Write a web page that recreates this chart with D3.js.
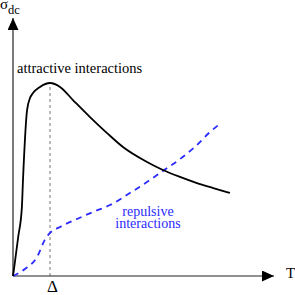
<!DOCTYPE html>
<html>
<head>
<meta charset="utf-8">
<script src="https://cdn.jsdelivr.net/npm/d3@7"></script>
<style>
    body { margin: 0; background: #fff; }
</style>
</head>
<body>
<svg class="chart" width="295" height="295" font-family="Liberation Serif"></svg>
<script>
// T in units of the gap Delta, sigma_dc in arbitrary units
var attractiveT = [0, 0.03, 0.14, 0.24, 0.27, 0.38, 0.46, 0.54, 0.73, 1.0, 1.27, 1.62, 2.08, 2.54, 2.97, 3.62, 4.05, 4.51, 4.97, 5.41, 5.86];
var attractiveSigma = [0, 0.31, 1.51, 2.67, 3.72, 6.43, 6.90, 7.09, 7.33, 7.48, 7.33, 6.82, 6.16, 5.54, 5.00, 4.42, 4.11, 3.84, 3.60, 3.41, 3.22];

var repulsiveT = [0, 0.32, 0.65, 0.86, 1.0, 1.27, 1.73, 2.16, 2.62, 3.24, 3.70, 4.05, 4.51, 4.97, 5.32, 5.62];
var repulsiveSigma = [0, 0.27, 0.74, 1.40, 1.67, 1.90, 2.21, 2.48, 2.75, 3.29, 3.72, 4.07, 4.53, 5.08, 5.58, 5.93];

var tickT = [1];
var tickLabels = ["Δ"];

const blue = "#2b2bff";
const serif = "Liberation Serif";

var chart = d3.select(".chart");

var xScale = d3.scaleLinear()
    .domain([0, 7.05])
    .range([13, 274]);

var yScale = d3.scaleLinear()
    .domain([0, 10])
    .range([276, 18]);

// arrow heads
var defs = chart.append("defs");
defs.append("marker")
    .attr("id", "arrow")
    .attr("viewBox", "0 0 12 11")
    .attr("refX", 12)
    .attr("refY", 5.5)
    .attr("markerWidth", 12)
    .attr("markerHeight", 11)
    .attr("markerUnits", "userSpaceOnUse")
    .attr("orient", "auto")
    .append("path")
    .attr("d", "M0,0 L12,5.5 L0,11 Z")
    .style("fill", "#000");

/**** dashed marker at Delta ****/
chart.selectAll(".deltaLine")
    .data(tickT)
    .enter()
    .append("line")
    .attr("class", "deltaLine")
    .attr("x1", function(d) { return xScale(d); })
    .attr("x2", function(d) { return xScale(d); })
    .attr("y1", yScale(0))
    .attr("y2", yScale(7.48))
    .style("stroke", "#777")
    .style("stroke-width", 1)
    .style("stroke-dasharray", "3,3");

/**** axes ****/
var xAxis = d3.axisBottom(xScale)
    .tickValues(tickT)
    .tickFormat(function(d, i) { return tickLabels[i]; })
    .tickSize(0)
    .tickPadding(4);

var xAxisG = chart.append("g")
    .attr("class", "xAxis")
    .attr("transform", "translate(0," + yScale(0) + ")")
    .call(xAxis)
    .attr("font-family", serif)
    .attr("font-size", 17);
xAxisG.select(".domain")
    .attr("d", "M" + xScale.range()[0] + ",0H" + xScale.range()[1])
    .style("stroke", "#222")
    .style("stroke-width", 1.2)
    .attr("marker-end", "url(#arrow)");
xAxisG.selectAll("text")
    .attr("dx", 2)
    .attr("dy", "0.68em")
    .attr("fill", "#000");

var yAxis = d3.axisLeft(yScale)
    .tickValues([])
    .tickSizeOuter(0);

var yAxisG = chart.append("g")
    .attr("class", "yAxis")
    .attr("transform", "translate(" + xScale(0) + ",0)")
    .call(yAxis);
yAxisG.select(".domain")
    .attr("d", "M0," + yScale.range()[0] + "V" + yScale.range()[1])
    .style("stroke", "#222")
    .style("stroke-width", 1.2)
    .attr("marker-end", "url(#arrow)");

/**** curves ****/
var line = d3.line()
    .x(function(d) { return xScale(d[0]); })
    .y(function(d) { return yScale(d[1]); })
    .curve(d3.curveMonotoneX);

var attractive = d3.zip(attractiveT, attractiveSigma);
var repulsive = d3.zip(repulsiveT, repulsiveSigma);

chart.append("path")
    .datum(repulsive)
    .attr("d", line)
    .style("fill", "none")
    .style("stroke", blue)
    .style("stroke-width", 1.8)
    .style("stroke-dasharray", "6,5");

chart.append("path")
    .datum(attractive)
    .attr("d", line)
    .style("fill", "none")
    .style("stroke", "#000")
    .style("stroke-width", 1.8);

/**** labels ****/
var sigmaLabel = chart.append("text")
    .attr("x", 0)
    .attr("y", 9)
    .attr("font-family", serif)
    .attr("font-size", 15);
sigmaLabel.append("tspan").text("σ");
sigmaLabel.append("tspan")
    .attr("dy", 4.5)
    .attr("font-size", 12.5)
    .text("dc");

chart.append("text")
    .attr("x", 286)
    .attr("y", 278)
    .attr("font-family", serif)
    .attr("font-size", 15)
    .text("T");

chart.append("text")
    .attr("x", 17)
    .attr("y", 73)
    .attr("font-family", serif)
    .attr("font-size", 14.5)
    .text("attractive interactions");

chart.append("text")
    .attr("text-anchor", "middle")
    .attr("x", 148)
    .attr("y", 215.5)
    .attr("font-family", serif)
    .attr("font-size", 14)
    .attr("fill", blue)
    .text("repulsive");

chart.append("text")
    .attr("text-anchor", "middle")
    .attr("x", 148)
    .attr("y", 228)
    .attr("font-family", serif)
    .attr("font-size", 14)
    .attr("fill", blue)
    .text("interactions");
</script>
</body>
</html>
